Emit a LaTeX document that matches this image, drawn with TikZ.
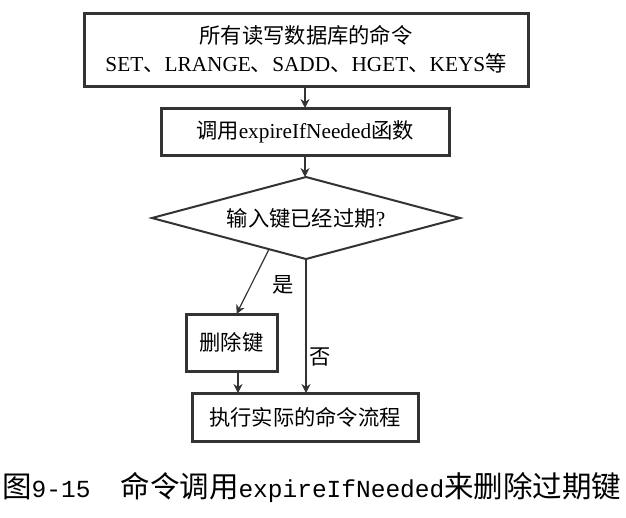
\documentclass[tikz,border=0pt]{standalone}
\usepackage{fontspec}
\setmainfont{Liberation Serif}
\newfontfamily\cjk{Noto Sans CJK SC}
\newfontfamily\capmono{Liberation Mono}
\usetikzlibrary{shapes.geometric,arrows.meta,calc}
\definecolor{ink}{HTML}{333333}
\tikzset{
  box/.style={draw=ink, line width=3pt, rectangle, inner sep=0pt, outer sep=0pt, align=center,
    font=\fontsize{21.3}{28}\selectfont},
  decide/.style={draw=ink, line width=2pt, diamond, inner sep=0pt, outer sep=0pt,
    font=\fontsize{21.3}{28}\selectfont},
  arr/.style={draw=ink, line width=1.2pt, -{Stealth[length=9pt,width=9pt]}},
  lbl/.style={font=\fontsize{21.3}{28}\selectfont, inner sep=0pt},
}
\begin{document}
\begin{tikzpicture}[x=1pt,y=-1pt]
\useasboundingbox (0,0) rectangle (626,517);
\node[box, minimum width=444pt, minimum height=73pt] (all) at (306,49.5)
  {{\cjk 所有读写数据库的命令}\\SET{\cjk 、}LRANGE{\cjk 、}SADD{\cjk 、}HGET{\cjk 、}KEYS{\cjk 等}};
\node[box, minimum width=288pt, minimum height=47pt] (call) at (305,131.5)
  {{\cjk 调用}expireIfNeeded{\cjk 函数}};
\node[decide, minimum width=308pt, minimum height=82pt, aspect=3.75] (dia) at (306,218)
  {{\cjk 输入键已经过期}?};
\node[box, minimum width=91pt, minimum height=57pt] (del) at (231.5,342.5) {\cjk 删除键};
\node[box, minimum width=226pt, minimum height=48pt] (exec) at (305,417) {\cjk 执行实际的命令流程};
\coordinate (yesStart) at ($(dia.west)!0.76!(dia.south)$);
\coordinate (yesEnd) at ([xshift=5pt]del.north);
\draw[arr] (call.north |- all.south) -- (call.north);
\draw[arr] (call.south) -- (call.south |- dia.north);
\draw[arr] (yesStart) -- (yesEnd);
\draw[arr] (dia.south) -- (dia.south |- exec.north);
\draw[arr] ([xshift=6.5pt]del.south) -- ([xshift=6.5pt]del.south |- exec.north);
\node[lbl] (yes) at (283,285) {\cjk 是};
\node[lbl] (no) at (320,357) {\cjk 否};
\node[anchor=west, inner sep=0pt, font=\fontsize{29.5}{30}\selectfont] (cap) at (2,487)
  {{\cjk 图}{\capmono\fontsize{24.5}{30}\selectfont 9-15}\hspace{30pt}{\cjk 命令调用}{\capmono\fontsize{24.5}{30}\selectfont expireIfNeeded}{\cjk 来删除过期键}};
\end{tikzpicture}
\end{document}
